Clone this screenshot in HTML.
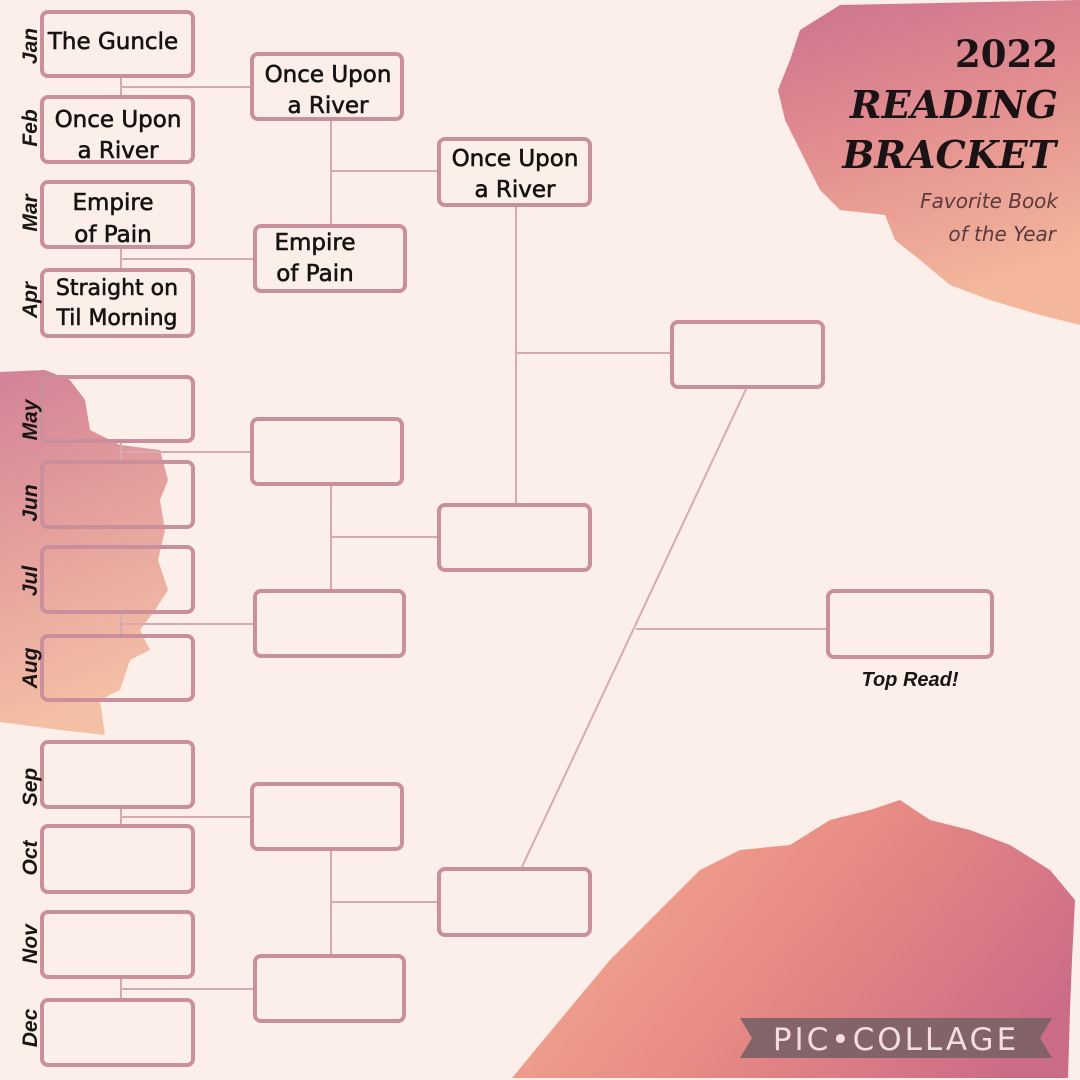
<!DOCTYPE html>
<html><head><meta charset="utf-8"><style>
html,body{margin:0;padding:0;background:#fcefea;}
svg{display:block}
.b{fill:none;stroke:#c98f9b;stroke-width:4}
.l{stroke:#d6aab1;stroke-width:2;fill:none}
.t{font-family:"DejaVu Sans","Liberation Sans",sans-serif;font-size:23px;fill:#161212;stroke:#161212;stroke-width:0.6;text-anchor:middle}
.m{font-family:"Liberation Sans",sans-serif;font-weight:bold;font-style:italic;font-size:21px;fill:#1a1414;text-anchor:middle}
</style></head><body>
<svg width="1080" height="1080" viewBox="0 0 1080 1080" xmlns="http://www.w3.org/2000/svg">
<defs>
<linearGradient id="g1" x1="0" y1="0" x2="0.3" y2="1"><stop offset="0" stop-color="#c35c7e"/><stop offset="0.5" stop-color="#df7f80"/><stop offset="1" stop-color="#f2ad8e"/></linearGradient>
<linearGradient id="g2" x1="0" y1="0" x2="0.2" y2="1"><stop offset="0" stop-color="#c86682"/><stop offset="0.5" stop-color="#e08d8a"/><stop offset="1" stop-color="#f2b594"/></linearGradient>
<linearGradient id="g3" x1="0" y1="0.3" x2="1" y2="0.7"><stop offset="0" stop-color="#f2a58a"/><stop offset="0.5" stop-color="#e57f78"/><stop offset="1" stop-color="#c55d7c"/></linearGradient>
</defs>
<rect width="1080" height="1080" fill="#fcefea"/>
<path d="M800,30 L840,5 L1080,0 L1080,325 L1040,315 L990,300 L950,285 L920,260 L895,240 L885,215 L840,210 L820,190 L800,150 L785,120 L778,90 L790,60 Z" fill="url(#g1)" opacity="0.85"/>
<path d="M0,372 L45,370 L70,380 L85,400 L90,430 L120,445 L160,450 L168,480 L160,500 L165,530 L158,560 L168,590 L155,610 L140,630 L150,650 L130,660 L120,690 L100,700 L105,735 L60,730 L0,722 Z" fill="url(#g2)" opacity="0.8"/>
<path d="M512,1078 L560,1020 L610,960 L660,910 L700,870 L740,850 L790,845 L830,820 L870,810 L900,800 L930,820 L970,830 L1010,845 L1050,870 L1075,900 L1072,960 L1070,1010 L1068,1078 Z" fill="url(#g3)" opacity="0.9"/>
<g class="l">
<path d="M121,76V97M121,87H252"/><path d="M121,247V270M121,259H255"/>
<path d="M121,441V462M121,452H252"/><path d="M121,612V636M121,624H255"/>
<path d="M121,807V826M121,817H252"/><path d="M121,977V1000M121,989H255"/>
<path d="M331,119V226M331,171H439"/><path d="M331,484V591M331,537H439"/><path d="M331,849V956M331,902H439"/>
<path d="M516,205V505M516,353H672"/><path d="M521,869L747,387"/><path d="M636,629H828"/>
</g>
<g class="b">
<rect x="42" y="12" width="151" height="64" rx="6"/><rect x="42" y="97" width="151" height="65" rx="6"/>
<rect x="42" y="182" width="151" height="65" rx="6"/><rect x="42" y="270" width="151" height="66" rx="6"/>
<rect x="42" y="377" width="151" height="64" rx="6"/><rect x="42" y="462" width="151" height="65" rx="6"/>
<rect x="42" y="547" width="151" height="65" rx="6"/><rect x="42" y="636" width="151" height="64" rx="6"/>
<rect x="42" y="742" width="151" height="65" rx="6"/><rect x="42" y="826" width="151" height="66" rx="6"/>
<rect x="42" y="912" width="151" height="65" rx="6"/><rect x="42" y="1000" width="151" height="65" rx="6"/>
<rect x="252" y="54" width="150" height="65" rx="6"/><rect x="255" y="226" width="150" height="65" rx="6"/>
<rect x="252" y="419" width="150" height="65" rx="6"/><rect x="255" y="591" width="149" height="65" rx="6"/>
<rect x="252" y="784" width="150" height="65" rx="6"/><rect x="255" y="956" width="149" height="65" rx="6"/>
<rect x="439" y="139" width="151" height="66" rx="6"/><rect x="439" y="505" width="151" height="65" rx="6"/>
<rect x="439" y="869" width="151" height="66" rx="6"/>
<rect x="672" y="322" width="151" height="65" rx="6"/>
<rect x="828" y="591" width="164" height="66" rx="6"/>
</g>
<g class="t">
<text x="113" y="49">The Guncle</text>
<text x="118" y="127">Once Upon</text><text x="118" y="158">a River</text>
<text x="113" y="210">Empire</text><text x="113" y="242">of Pain</text>
<text x="117" y="295" font-size="22">Straight on</text><text x="117" y="325" font-size="22">Til Morning</text>
<text x="328" y="82">Once Upon</text><text x="328" y="113">a River</text>
<text x="315" y="250">Empire</text><text x="315" y="281">of Pain</text>
<text x="515" y="166">Once Upon</text><text x="515" y="197">a River</text>
</g>
<g class="m">
<text transform="translate(37,46) rotate(-90)">Jan</text>
<text transform="translate(37,128) rotate(-90)">Feb</text>
<text transform="translate(37,213) rotate(-90)">Mar</text>
<text transform="translate(37,300) rotate(-90)">Apr</text>
<text transform="translate(37,420) rotate(-90)">May</text>
<text transform="translate(37,503) rotate(-90)">Jun</text>
<text transform="translate(37,581) rotate(-90)">Jul</text>
<text transform="translate(37,668) rotate(-90)">Aug</text>
<text transform="translate(37,787) rotate(-90)">Sep</text>
<text transform="translate(37,858) rotate(-90)">Oct</text>
<text transform="translate(37,944) rotate(-90)">Nov</text>
<text transform="translate(37,1028) rotate(-90)">Dec</text>
</g>
<text x="910" y="686" font-family="Liberation Sans,sans-serif" font-weight="bold" font-style="italic" font-size="20" fill="#1a1414" text-anchor="middle">Top Read!</text>
<g font-family="'DejaVu Serif','Liberation Serif',serif" font-weight="bold" fill="#1a1214" text-anchor="end">
<text x="1058" y="67" font-size="37">2022</text>
<text x="1058" y="118" font-size="38" font-style="italic">READING</text>
<text x="1056" y="168" font-size="38" font-style="italic">BRACKET</text>
</g>
<g font-family="'DejaVu Sans','Liberation Sans',sans-serif" font-style="italic" font-size="20" fill="#5a3a3e" text-anchor="end">
<text x="1058" y="208">Favorite Book</text>
<text x="1056" y="241">of the Year</text>
</g>
<path d="M740,1018 H1052 L1040,1038 L1052,1058 H740 L752,1038 Z" fill="#7d6266" opacity="0.95"/>
<text x="896" y="1050" font-family="'DejaVu Sans','Liberation Sans',sans-serif" font-size="31" letter-spacing="3" fill="#f4dde0" text-anchor="middle">PIC•COLLAGE</text>
</svg>
</body></html>
